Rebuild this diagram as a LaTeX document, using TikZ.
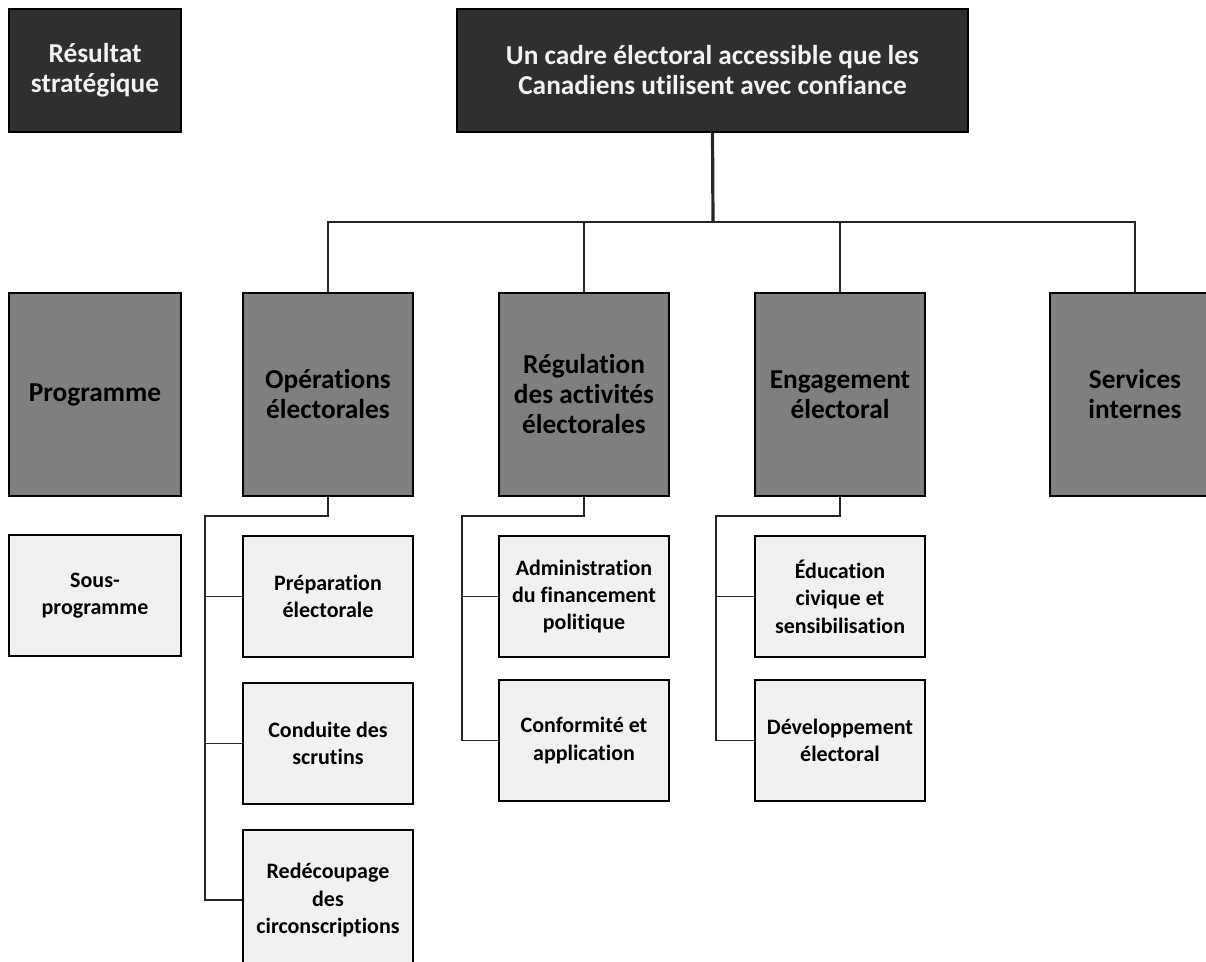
\documentclass[tikz,border=0pt]{standalone}
\usepackage{fontspec}
\setmainfont[Ligatures=NoCommon]{Carlito}
\definecolor{darkfill}{RGB}{47,47,47}
\definecolor{progfill}{RGB}{127,127,127}
\definecolor{subfill}{RGB}{240,241,241}
\tikzset{
	basebox/.style={draw=black, line width=1.1pt, align=center, inner sep=2pt},
	resbox/.style={basebox, fill=darkfill, text=white!95!black,
		font=\bfseries\fontsize{20.5}{22.5}\selectfont, minimum height=92.25pt},
	progbox/.style={basebox, fill=progfill, text=black,
		font=\bfseries\fontsize{20.5}{22.5}\selectfont,
		minimum width=127.5pt, minimum height=152.25pt},
	subbox/.style={basebox, fill=subfill, text=black,
		font=\bfseries\fontsize{16.5}{20.5}\selectfont,
		minimum width=127.5pt, minimum height=90.75pt},
	link/.style={draw=black!85, line width=1pt},
	trunk/.style={draw=black!85, line width=2.4pt}
}
\begin{document}
\begin{tikzpicture}[x=0.75pt,y=0.75pt,yscale=-1,xscale=1]
\useasboundingbox (0,0) rectangle (1206,961);

% strategic outcome row
\node[resbox, minimum width=129pt] (res) at (95,70.5) {Résultat\\stratégique};
\node[resbox, minimum width=383.25pt] (cadre) at (712.5,70.5) {Un cadre électoral accessible que les\\Canadiens utilisent avec confiance};

% program row
\node[progbox, minimum width=129pt] (prog) at (95,394.5) {Programme};
\node[progbox] (ops) at (328,394.5) {Opérations\\électorales};
\node[progbox] (reg) at (584,394.5) {Régulation\\des activités\\électorales};
\node[progbox] (eng) at (840,394.5) {Engagement\\électoral};
\node[progbox] (svc) at (1135,394.5) {Services\\internes};

% sub-program row
\node[subbox, minimum width=129pt] (sousprog) at (95,595.5) {Sous-\\programme};
\node[subbox] (prep) at (328,596.5) {Préparation\\électorale};
\node[subbox] (cond) at (328,743.5) {Conduite des\\scrutins};
\node[subbox, minimum height=105pt] (redec) at (328,900) {Redécoupage\\des\\circonscriptions};
\node[subbox] (admin) at (584,596.5) {Administration\\du financement\\politique};
\node[subbox] (conf) at (584,740.5) {Conformité et\\application};
\node[subbox] (educ) at (840,596.5) {Éducation\\civique et\\sensibilisation};
\node[subbox] (dev) at (840,740.5) {Développement\\électoral};

% connectors from the outcome
\coordinate (bar) at (713,222);
\draw[trunk] (cadre.south) -- (bar);
\draw[link] (ops.north) |- (bar) -| (svc.north);
\draw[link] (reg.north) -- (reg.north |- bar);
\draw[link] (eng.north) -- (eng.north |- bar);

% connectors to sub-programs
\coordinate (opsT) at (205,516);
\coordinate (regT) at (462,516);
\coordinate (engT) at (716,516);
\draw[link] (ops.south) |- (opsT) |- (redec.west);
\draw[link] (opsT |- prep.west) -- (prep.west);
\draw[link] (opsT |- cond.west) -- (cond.west);
\draw[link] (reg.south) |- (regT) |- (conf.west);
\draw[link] (regT |- admin.west) -- (admin.west);
\draw[link] (eng.south) |- (engT) |- (dev.west);
\draw[link] (engT |- educ.west) -- (educ.west);

\end{tikzpicture}
\end{document}
